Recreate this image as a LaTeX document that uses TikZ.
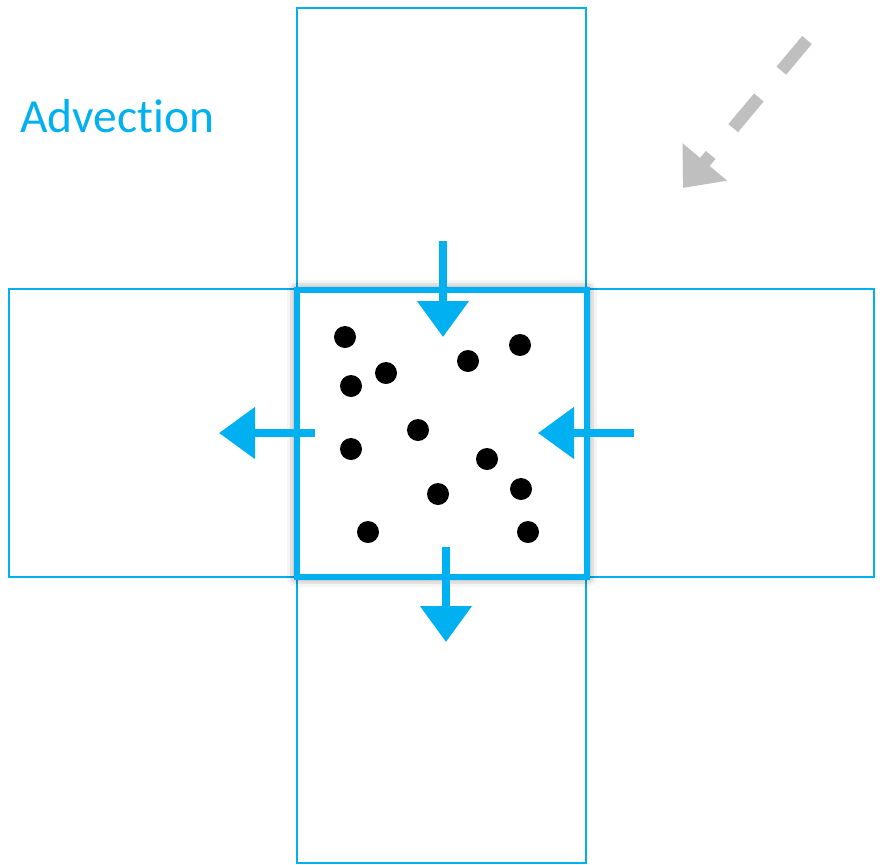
\documentclass[tikz,border=0pt]{standalone}
\usepackage{fontspec}
\setmainfont{Carlito}[Ligatures={NoCommon}]
\usetikzlibrary{arrows.meta,shadows.blur}
\definecolor{acyan}{HTML}{00B0F0}
\definecolor{agrey}{HTML}{BFBFBF}
\begin{document}
\begin{tikzpicture}[x=1pt,y=-1pt,
  thinbox/.style={draw=acyan,line width=1.8pt},
  centerbox/.style={draw=acyan,line width=6pt,fill=white,
    blur shadow={shadow xshift=0pt,shadow yshift=0pt,shadow blur radius=10pt,shadow opacity=60,shadow scale=1.0}},
  flowarrow/.style={draw=acyan,line width=8pt,-{Triangle[length=36pt,width=50pt]}},
  greyarrow/.style={draw=agrey,line width=12.5pt,dash pattern=on 40pt off 35pt,-{Triangle[length=34pt,width=56pt]}},
  particle/.style={fill=black,circle,inner sep=0pt,minimum size=22pt},
  label/.style={text=acyan,font=\fontsize{47.5}{56}\selectfont,inner sep=0pt,anchor=base west}]
\useasboundingbox (0,0) rectangle (884,865);
% outer cells
\draw[thinbox] (297,8) rectangle (586,863);
\draw[thinbox] (9,289) rectangle (874,577);
% central cell
\draw[centerbox] (297,290) rectangle (587,577);
% particles
\foreach \n/\x/\y in {1/345/337,2/520/345,3/468/361,4/386/373,5/351/386,6/418/430,7/351/449,8/487/459,9/438/494,10/521/489,11/368/532,12/528/532}
  \node[particle] (p\n) at (\x,\y) {};
% flux arrows
\coordinate (tA) at (443,241); \coordinate (tB) at (443,337);
\coordinate (lA) at (315,433); \coordinate (lB) at (219,433);
\coordinate (rA) at (634,433); \coordinate (rB) at (538,433);
\coordinate (bA) at (446,547); \coordinate (bB) at (446,642);
\draw[flowarrow] (tA) -- (tB);
\draw[flowarrow] (lA) -- (lB);
\draw[flowarrow] (rA) -- (rB);
\draw[flowarrow] (bA) -- (bB);
% grey wind arrow
\coordinate (gA) at (807,40); \coordinate (gB) at (683,188);
\draw[greyarrow] (gA) -- (gB);
% label
\node[label] (adv) at (20,132) {Advection};
\end{tikzpicture}
\end{document}
